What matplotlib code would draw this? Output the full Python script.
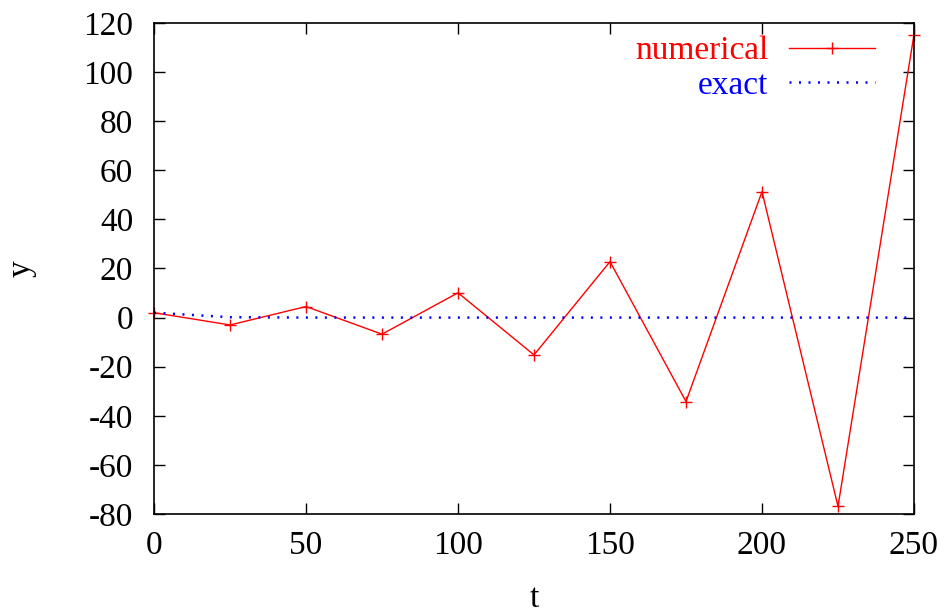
import numpy as np
import matplotlib
matplotlib.use('Agg')
import matplotlib.pyplot as plt
from matplotlib.ticker import FuncFormatter

plt.rcParams['font.family'] = ['Liberation Serif', 'DejaVu Serif']
plt.rcParams['axes.unicode_minus'] = False

# data
t = [0, 25, 50, 75, 100, 125, 150, 175, 200, 225, 250]
y_numerical = [2.0, -3.0, 4.5, -6.75, 10.1, -15.2, 22.8, -34.2, 51.3, -76.9, 115.3]
y_exact = [2.0, 0.16, 0.013, 0.001, 0.0, 0.0, 0.0, 0.0, 0.0, 0.0, 0.0]

xticks = [0, 50, 100, 150, 200, 250]
yticks = [-80, -60, -40, -20, 0, 20, 40, 60, 80, 100, 120]


def main():
	fig = plt.figure(figsize=(9.51, 6.16), dpi=100)
	ax = fig.add_axes([154 / 951, 1 - 514 / 616, (914 - 154) / 951, (514 - 23) / 616])

	ax.plot(t, y_numerical, color='red', lw=1.0, marker='+', ms=9, mew=1.0, label='numerical', clip_on=False)
	ax.plot(t, y_exact, color='blue', lw=1.8, linestyle=(0, (0.8, 3)), label='exact')

	ax.set_xlim(0, 250)
	ax.set_ylim(-80, 120)
	ax.set_xticks(xticks)
	ax.set_yticks(yticks)
	ax.yaxis.set_major_formatter(FuncFormatter(lambda v, p: '%d' % v))
	ax.tick_params(direction='in', length=8, width=1, labelsize=24, top=True, right=True, pad=12)
	ax.tick_params(axis='y', pad=15)
	for s in ax.spines.values():
		s.set_linewidth(1.2)

	ax.set_xlabel('t', fontsize=24, labelpad=16)
	ax.set_ylabel('y', fontsize=24)
	ax.yaxis.set_label_coords(-0.155, 0.5)

	leg = ax.legend(loc='upper right', frameon=False, markerfirst=False, fontsize=24,
		handlelength=2.6, handletextpad=0.6, labelspacing=0.13, borderpad=0,
		labelcolor='linecolor', borderaxespad=0, bbox_to_anchor=(0.949, 0.974))

	fig.savefig('out.png', dpi=100)


if __name__ == "__main__":
	main()
